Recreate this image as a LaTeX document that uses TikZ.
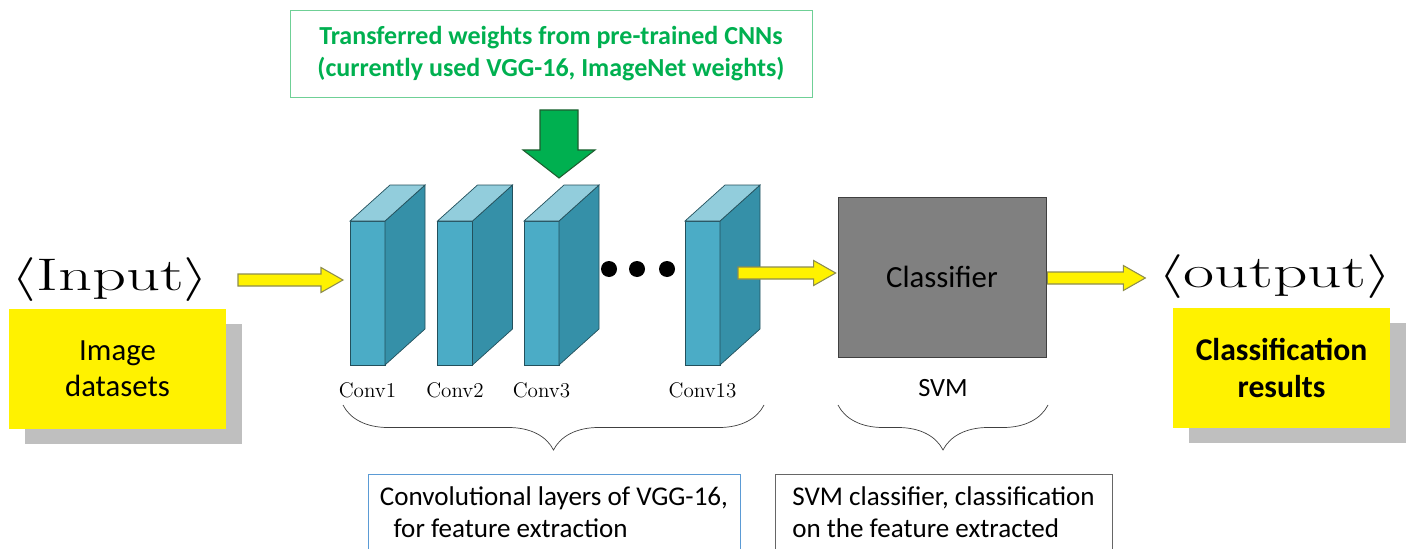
\documentclass[tikz,border=0pt]{standalone}
\usepackage{fontspec}
\usepackage{graphicx}
\newfontfamily\calfont{Carlito}
\usetikzlibrary{calc,shadows,decorations.pathreplacing}

\definecolor{convfrontc}{HTML}{4BACC6}
\definecolor{convsidec}{HTML}{3590A8}
\definecolor{convtopc}{HTML}{92CDDC}
\definecolor{convedge}{HTML}{23505C}
\definecolor{greentext}{HTML}{00B050}
\definecolor{greenline}{HTML}{6FD096}
\definecolor{greenedge}{HTML}{1E5E30}
\definecolor{yelline}{HTML}{8C8C50}
\definecolor{shadowgray}{HTML}{BFBFBF}
\definecolor{clfgray}{HTML}{808080}
\definecolor{blueline}{HTML}{5B9BD5}

\tikzset{
  frontface/.style={draw=convedge, fill=convfrontc, minimum width=0.7cm, minimum height=2.88cm, inner sep=0pt, outer sep=0pt},
  sideface/.style={draw=convedge, fill=convsidec},
  topface/.style={draw=convedge, fill=convtopc},
  convlab/.style={font=\fontsize{12}{14}\selectfont},
  iolab/.style={font=\fontsize{26}{30}\selectfont},
  yelbox/.style={fill=yellow, minimum width=4.34cm, minimum height=2.4cm, align=center,
    font=\calfont\fontsize{17.5}{20.5}\selectfont,
    drop shadow={shadow xshift=0.32cm, shadow yshift=-0.3cm, fill=shadowgray, opacity=1}},
  yelarr/.style={draw=yelline, fill=yellow, line width=0.6pt},
  greenarr/.style={draw=greenedge, fill=greentext, line width=0.6pt},
  notebox/.style={draw, minimum height=1.52cm, align=left, font=\calfont\fontsize{15.4}{18}\selectfont},
  bracedown/.style={decorate, decoration={brace, mirror, amplitude=0.9cm}, draw=black!75}
}

\newcommand\convblock[2]{%
  \node[frontface] (#1) at (#2) {};
  \draw[sideface] (#1.north east) -- ++(0.8,0.72) -- ($(#1.south east)+(0.8,0.72)$) -- (#1.south east) -- cycle;
  \draw[topface] (#1.north west) -- ++(0.8,0.72) -- ++(0.7,0) -- (#1.north east) -- cycle;}

\newcommand\yelarrow[2]{%
  \draw[yelarr] ($(#1)+(0,0.12)$) -- ($(#2)+(-0.44,0.12)$) -- ($(#2)+(-0.44,0.25)$) -- (#2)
    -- ($(#2)+(-0.44,-0.25)$) -- ($(#2)+(-0.44,-0.12)$) -- ($(#1)+(0,-0.12)$) -- cycle;}

\begin{document}
\begin{tikzpicture}
  \useasboundingbox (0,0) rectangle (28.26,10.96);
  \clip (0,0) rectangle (28.26,10.96);

  \node[draw=greenline, minimum width=10.44cm, minimum height=1.74cm, align=center, text=greentext,
    font=\calfont\bfseries\fontsize{14.8}{18}\selectfont] (transfer) at (11.02,9.89)
    {Transferred weights from pre-trained CNNs\\(currently used VGG-16, ImageNet weights)};

  \convblock{c1}{7.35,5.10}
  \convblock{c2}{9.10,5.10}
  \convblock{c3}{10.83,5.10}
  \convblock{c13}{14.05,5.10}
  \foreach \x in {12.18,12.74,13.34}
    \fill (\x,5.58) circle (0.16);

  \node[convlab] at ($(c1.south)+(0,-0.5)$) {Conv1};
  \node[convlab] at ($(c2.south)+(0,-0.5)$) {Conv2};
  \node[convlab] at ($(c3.south)+(0,-0.5)$) {Conv3};
  \node[convlab] at ($(c13.south)+(0,-0.5)$) {Conv13};

  \coordinate (gtip) at ($(c3.north east)+(0,0.86)$);
  \draw[greenarr] (gtip) -- ++(-0.72,0.56) -- ++(0.34,0) -- ++(0,0.8) -- ++(0.76,0)
    -- ++(0,-0.8) -- ++(0.34,0) -- cycle;

  \node[iolab] (inlab) at (2.2,5.36) {\scalebox{1.46}[1]{$\langle$Input$\rangle$}};
  \node[yelbox] (inbox) at (2.35,3.58) {Image\\datasets};

  \node[draw=black!75, fill=clfgray, minimum width=4.16cm, minimum height=3.2cm,
    font=\calfont\fontsize{17.5}{20}\selectfont] (clf) at (18.84,5.42) {Classifier};
  \node[font=\calfont\fontsize{15}{18}\selectfont] (svm) at (18.86,3.2) {SVM};

  \node[iolab] (outlab) at (25.5,5.42) {\scalebox{1.48}[1]{$\langle$output$\rangle$}};
  \node[yelbox, font=\calfont\bfseries\fontsize{18}{21}\selectfont] (outbox) at (25.63,3.6) {Classification\\results};

  \coordinate (a1s) at (4.76,5.36);
  \coordinate (a1e) at ($(c1.west|-a1s)+(-0.14,0)$);
  \yelarrow{a1s}{a1e}
  \coordinate (a2s) at (14.76,5.5);
  \coordinate (a2e) at ($(clf.west|-a2s)+(-0.04,0)$);
  \yelarrow{a2s}{a2e}
  \coordinate (a3s) at ($(clf.east)+(0.02,-0.02)$);
  \coordinate (a3e) at ($(a3s)+(1.96,0)$);
  \yelarrow{a3s}{a3e}

  \draw[bracedown] (6.86,2.86) -- (15.28,2.86);
  \draw[bracedown] (16.76,2.86) -- (20.96,2.86);

  \node[notebox, draw=blueline, minimum width=7.44cm] (convnote) at (11.08,0.72)
    {Convolutional layers of VGG-16,\\\hspace{0.5em}for feature extraction};
  \node[notebox, draw=black!60, minimum width=6.74cm] (svmnote) at (18.87,0.72)
    {SVM classifier, classification\\on the feature extracted};
\end{tikzpicture}
\end{document}
